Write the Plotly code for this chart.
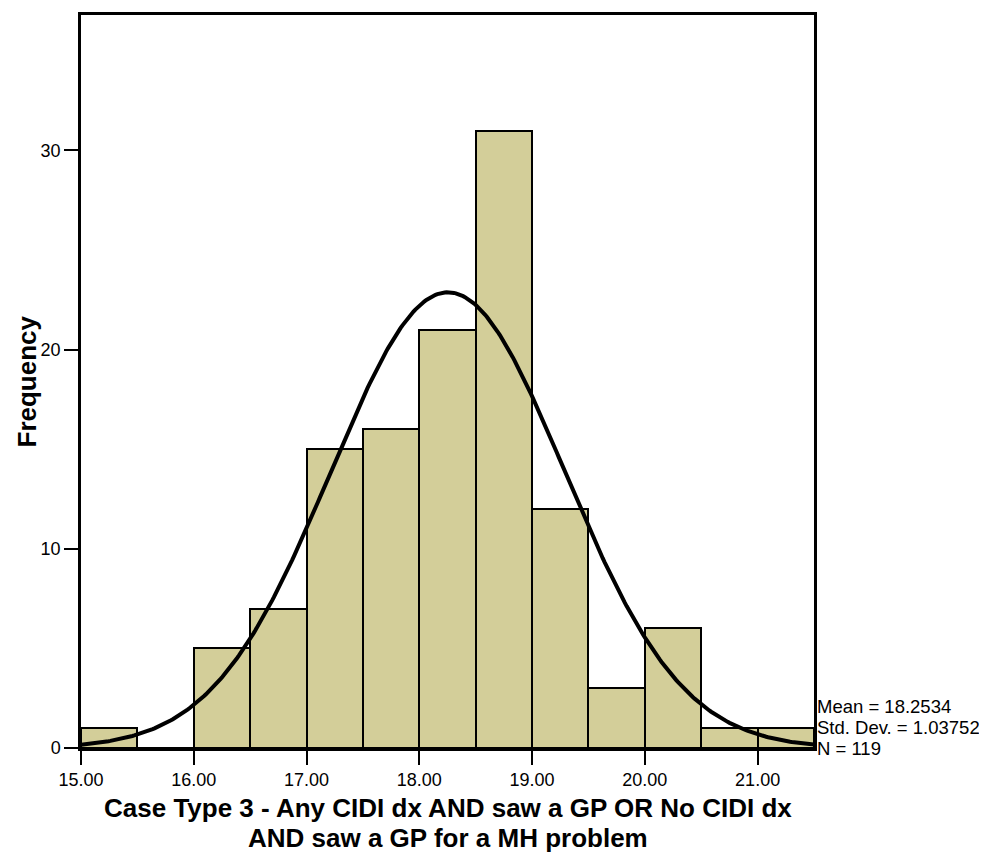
import numpy as np
import plotly.graph_objects as go

# Histogram data (bin left edges, width 0.5)
bin_starts = [15.0, 15.5, 16.0, 16.5, 17.0, 17.5, 18.0, 18.5, 19.0, 19.5, 20.0, 20.5, 21.0]
counts = [1, 0, 5, 7, 15, 16, 21, 31, 12, 3, 6, 1, 1]
bin_width = 0.5

# Summary statistics shown on the chart
mean_val = "18.2534"
std_val = "1.03752"
n_val = "119"

x_ticks = [15, 16, 17, 18, 19, 20, 21]
x_tick_labels = ["15.00", "16.00", "17.00", "18.00", "19.00", "20.00", "21.00"]
y_ticks = [0, 10, 20, 30]

centers = [b + bin_width / 2 for b in bin_starts]

# Fitted normal curve from the displayed mean / std / N
m, s, n = float(mean_val), float(std_val), int(n_val)
xc = np.linspace(15.0, 21.5, 400)
yc = n * bin_width / (s * np.sqrt(2 * np.pi)) * np.exp(-0.5 * ((xc - m) / s) ** 2)

fig = go.Figure()
fig.add_trace(go.Bar(
    x=centers, y=counts, width=bin_width,
    marker=dict(color="#d3ce99", line=dict(color="black", width=2)),
    hoverinfo="skip", showlegend=False,
))
fig.add_trace(go.Scatter(
    x=xc, y=yc, mode="lines",
    line=dict(color="black", width=4),
    hoverinfo="skip", showlegend=False,
))

FONT = "Liberation Sans, Arial, sans-serif"

# page body has an 8px default margin: figure origin is at (8, 8)
fig.update_layout(
    width=979, height=844,
    margin=dict(l=73, r=173, t=4, b=104),
    paper_bgcolor="white", plot_bgcolor="white",
    font=dict(family=FONT, color="black"),
    bargap=0,
    xaxis=dict(
        range=[15.0, 21.5], tickvals=x_ticks, ticktext=x_tick_labels,
        ticks="outside", ticklen=14, tickwidth=2, tickcolor="black",
        showline=True, linecolor="black", linewidth=2.5, mirror=True,
        showgrid=False, zeroline=False,
        tickfont=dict(size=18, family=FONT, color="black"),
    ),
    yaxis=dict(
        range=[0, 36.8], tickvals=y_ticks,
        ticks="outside", ticklen=14, tickwidth=2, tickcolor="black",
        showline=True, linecolor="black", linewidth=2.5, mirror=True,
        showgrid=False, zeroline=False,
        tickfont=dict(size=18, family=FONT, color="black"),
    ),
)

stats = [f"Mean = {mean_val}", f"Std. Dev. = {std_val}", f"N = {n_val}"]
for i, t in enumerate(stats):
    fig.add_annotation(
        text=t, xref="paper", x=1, xanchor="left", xshift=1,
        yref="y", y=(2 - i) * 1.05, yanchor="middle", showarrow=False,
        font=dict(size=18.5, family=FONT, color="black"), align="left",
    )

title_lines = ["Case Type 3 - Any CIDI dx AND saw a GP OR No CIDI dx",
               "AND saw a GP for a MH problem"]
for i, t in enumerate(title_lines):
    fig.add_annotation(
        text="<b>" + t + "</b>", xref="paper", x=0.5, xanchor="center",
        yref="paper", y=0, yanchor="middle", yshift=-(808 - 748) - 30 * i,
        showarrow=False, font=dict(size=26, family=FONT, color="black"),
    )

fig.add_annotation(
    text="<b>Frequency</b>", xref="paper", x=0, xanchor="center", xshift=-(81 - 26),
    yref="paper", y=0.5, yanchor="middle", textangle=-90,
    showarrow=False, font=dict(size=26, family=FONT, color="black"),
)

fig.write_html("out.html")
